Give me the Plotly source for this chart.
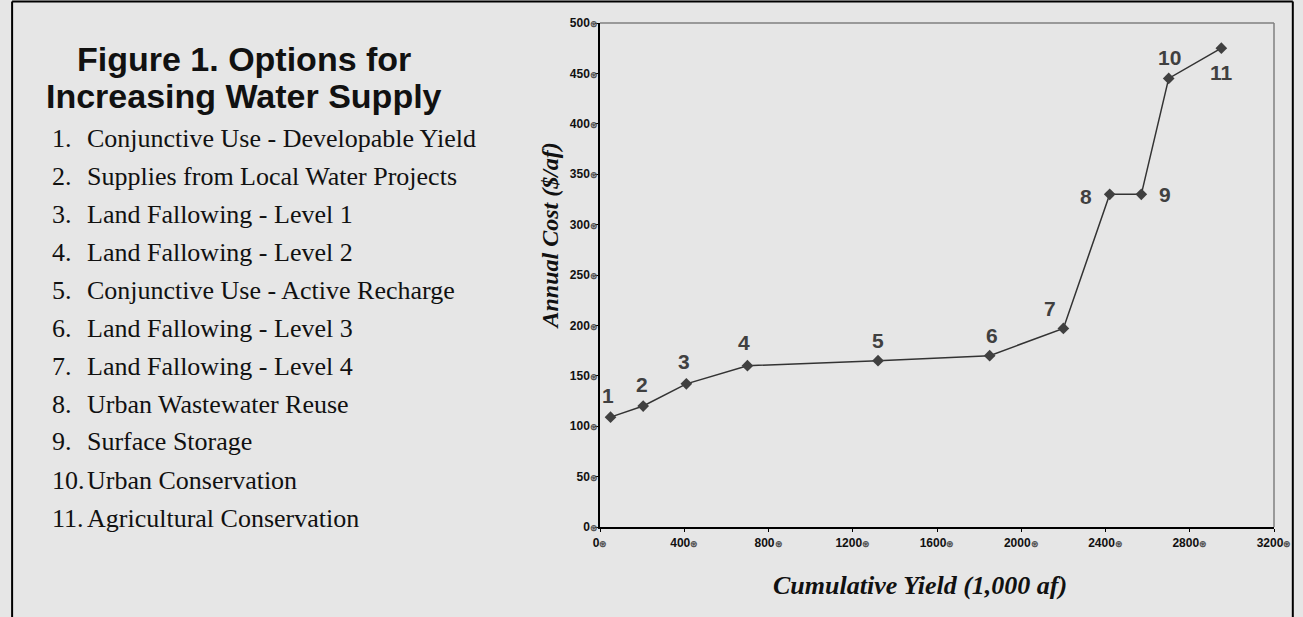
import plotly.graph_objects as go

# ---- data -------------------------------------------------------------
option_ids = list(range(1, 12))
option_names = [
    "Conjunctive Use - Developable Yield",
    "Supplies from Local Water Projects",
    "Land Fallowing - Level 1",
    "Land Fallowing - Level 2",
    "Conjunctive Use - Active Recharge",
    "Land Fallowing - Level 3",
    "Land Fallowing - Level 4",
    "Urban Wastewater Reuse",
    "Surface Storage",
    "Urban Conservation",
    "Agricultural Conservation",
]
cumulative_yield = [50, 205, 410, 700, 1320, 1850, 2200, 2420, 2570, 2700, 2950]
annual_cost = [109, 120, 142, 160, 165, 170, 197, 330, 330, 445, 475]

x_tick_values = [0, 400, 800, 1200, 1600, 2000, 2400, 2800, 3200]
y_tick_values = [0, 50, 100, 150, 200, 250, 300, 350, 400, 450, 500]

# ---- page geometry ----------------------------------------------------
W, H = 1303, 617
M_L, M_R, M_T, M_B = 600, 22, 23, 90
PLOT_W = W - M_L - M_R
PLOT_H = H - M_T - M_B


def paper_x(px):
    return (px - M_L) / PLOT_W


def paper_y(py):
    return (H - M_B - py) / PLOT_H


BG = "#e6e6e6"
MARK = "#404040"
GLYPH = "<span style='font-size:9px;color:#555555'>⊛</span>"

fig = go.Figure()

fig.add_trace(go.Scatter(
    x=cumulative_yield,
    y=annual_cost,
    mode="lines+markers",
    line=dict(color="#333333", width=1.5),
    marker=dict(symbol="diamond", size=9, color=MARK),
    cliponaxis=False,
    hoverinfo="x+y",
    showlegend=False,
))

# label offsets (pixels) for the option numbers next to each point
label_shift = [(-3, 22), (-1, 22), (-2, 22), (-3, 23), (0, 20), (2, 20),
               (-13, 20), (-24, -2), (24, 0), (1, 21), (0, -24)]

annotations = []
for oid, xv, yv, (dx, dy) in zip(option_ids, cumulative_yield, annual_cost, label_shift):
    annotations.append(dict(
        x=xv, y=yv, xref="x", yref="y", text=str(oid), showarrow=False,
        xshift=dx, yshift=dy,
        font=dict(family="Liberation Sans, Arial, sans-serif", size=21,
                  color=MARK, weight=700),
    ))

# title block
for line, py in (("Figure 1. Options for", 59), ("Increasing Water Supply", 96)):
    annotations.append(dict(
        x=paper_x(240), y=paper_y(py), xref="paper", yref="paper",
        text=line, showarrow=False, xanchor="center", yanchor="middle",
        font=dict(family="Liberation Sans, Arial, sans-serif", size=34,
                  color="#111111", weight=700),
    ))

# numbered list of options
ITEM_FONT = dict(family="Liberation Serif, Times New Roman, serif", size=26,
                 color="#111111")
for i, (oid, name) in enumerate(zip(option_ids, option_names)):
    py = 138 + i * 38
    annotations.append(dict(
        x=paper_x(44), y=paper_y(py), xref="paper", yref="paper",
        text=f"{oid}.", showarrow=False, xanchor="left", yanchor="middle",
        font=ITEM_FONT,
    ))
    annotations.append(dict(
        x=paper_x(80), y=paper_y(py), xref="paper", yref="paper",
        text=name, showarrow=False, xanchor="left", yanchor="middle",
        font=ITEM_FONT,
    ))

# axis titles
AXIS_TITLE_FONT = dict(family="Liberation Serif, Times New Roman, serif",
                       size=24, color="#111111", weight=700, style="italic")
annotations.append(dict(
    x=paper_x(549), y=paper_y(236), xref="paper", yref="paper",
    text="Annual Cost ($/af)", showarrow=False, textangle=-90,
    xanchor="center", yanchor="middle", font=AXIS_TITLE_FONT,
))
annotations.append(dict(
    x=paper_x(923), y=paper_y(585), xref="paper", yref="paper",
    text="Cumulative Yield (1,000 af)", showarrow=False,
    xanchor="center", yanchor="middle", font=dict(AXIS_TITLE_FONT, size=26),
))

shapes = [
    # light frame on the top and right of the plotting area
    dict(type="line", xref="paper", yref="paper", x0=0, x1=1, y0=1, y1=1,
         line=dict(color="#7f7f7f", width=1.5)),
    dict(type="line", xref="paper", yref="paper", x0=1, x1=1, y0=0, y1=1,
         line=dict(color="#7f7f7f", width=1.5)),
    # page border
    dict(type="line", xref="paper", yref="paper",
         x0=paper_x(6), x1=paper_x(1300), y0=paper_y(1.5), y1=paper_y(1.5),
         line=dict(color="#000000", width=2)),
    dict(type="line", xref="paper", yref="paper",
         x0=paper_x(6), x1=paper_x(6), y0=paper_y(1.5), y1=paper_y(H + 5),
         line=dict(color="#000000", width=2)),
    dict(type="line", xref="paper", yref="paper",
         x0=paper_x(1300), x1=paper_x(1300), y0=paper_y(1.5), y1=paper_y(H + 5),
         line=dict(color="#000000", width=2)),
]

TICK_FONT = dict(family="Liberation Sans, Arial, sans-serif", size=12,
                 color="#111111", weight=700)

fig.update_layout(
    width=W, height=H,
    margin=dict(l=M_L, r=M_R, t=M_T, b=M_B, pad=0),
    paper_bgcolor=BG, plot_bgcolor=BG,
    annotations=annotations,
    shapes=shapes,
    xaxis=dict(
        range=[0, 3200], tickmode="array", tickvals=x_tick_values,
        ticktext=[f"{v}{GLYPH}" for v in x_tick_values],
        showline=True, linecolor="#000000", linewidth=1.5,
        ticks="outside", ticklen=3, tickcolor="#000000", tickwidth=1,
        showgrid=False, zeroline=False, tickfont=TICK_FONT,
        ticklabelstandoff=1,
    ),
    yaxis=dict(
        range=[0, 500], tickmode="array", tickvals=y_tick_values,
        ticktext=[f"{v}{GLYPH}" for v in y_tick_values],
        showline=True, linecolor="#000000", linewidth=1.5,
        ticks="outside", ticklen=3, tickcolor="#000000", tickwidth=1,
        showgrid=False, zeroline=False, tickfont=TICK_FONT,
        ticklabelstandoff=-5,
    ),
)

fig.write_html("out.html")
